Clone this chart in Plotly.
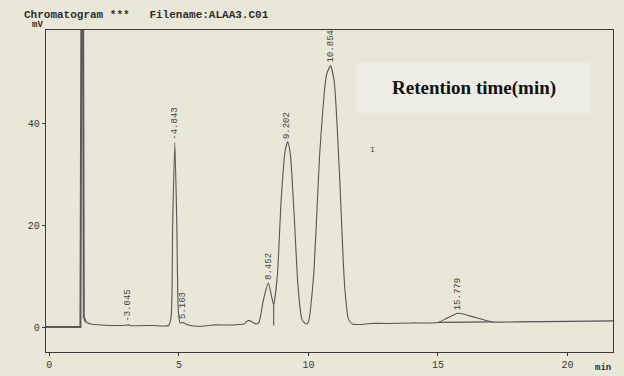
import plotly.graph_objects as go

# ---- data ----
# solvent front (off-scale spike)
solvent_t = [-0.13, 1.20, 1.24, 1.30, 1.33, 1.40]
solvent_mv = [0.0, 0.0, 70.0, 70.0, 2.0, 1.0]

# chromatogram trace after solvent front (time in min, signal in mV)
trace_t = [1.40, 1.6, 2.0, 2.8, 3.0, 3.045, 3.1, 4.0, 4.6, 4.70, 4.76, 4.843, 4.92, 4.98,
           5.05, 5.163, 5.3, 5.6, 6.0, 6.3, 7.0, 7.5, 7.7, 7.9, 8.0, 8.1, 8.25, 8.452,
           8.6, 8.66, 8.8, 8.95, 9.1, 9.202, 9.3, 9.45, 9.6, 9.75, 9.9, 10.0, 10.2,
           10.45, 10.7, 10.854, 11.0, 11.2, 11.4, 11.55, 11.7, 12.0, 12.4, 13.0, 14.0,
           15.0, 15.3, 15.779, 16.5, 17.1, 18.0, 20.0, 21.76]
trace_mv = [1.0, 0.6, 0.4, 0.3, 0.4, 0.5, 0.3, 0.3, 0.3, 2.0, 20.0, 36.1, 20.0, 3.0,
            0.8, 0.9, 0.5, 0.2, 0.2, 0.4, 0.4, 0.6, 1.3, 0.8, 0.6, 1.0, 5.0, 8.6,
            5.5, 4.4, 10.0, 25.0, 34.5, 36.3, 34.0, 22.0, 8.0, 1.5, 0.6, 1.0, 10.0,
            35.0, 49.5, 51.2, 48.0, 30.0, 8.0, 1.5, 0.6, 0.5, 0.7, 0.7, 0.8,
            0.9, 1.6, 2.7, 1.8, 1.0, 1.0, 1.1, 1.2]

# integration drop line / baselines
drop_t = [8.66, 8.66]
drop_mv = [4.4, 0.3]
base15_t = [15.0, 17.1]
base15_mv = [0.9, 1.0]

# peak labels
peak_rt = [3.045, 4.843, 5.163, 8.452, 9.202, 10.854, 15.779]
peak_mv = [0.5, 36.1, 0.9, 8.6, 36.3, 51.2, 2.7]
peak_txt = ["-3.045", "-4.843", "5.163", "8.452", "9.202", "10.854", "15.779"]

x_ticks = [0, 5, 10, 15, 20]
y_ticks = [0, 20, 40]

ink = "#3a3a3a"
bg = "#e9e7d8"
mono = "Liberation Mono, Courier New, monospace"

fig = go.Figure()
fig.add_trace(go.Scatter(x=solvent_t, y=solvent_mv, mode="lines",
                         line=dict(color="#5a5a5a", width=2.0), hoverinfo="skip"))
fig.add_trace(go.Scatter(x=trace_t, y=trace_mv, mode="lines",
                         line=dict(color="#555555", width=1.1, shape="spline", smoothing=0.6),
                         hoverinfo="skip"))
fig.add_trace(go.Scatter(x=drop_t, y=drop_mv, mode="lines",
                         line=dict(color="#555555", width=1.1), hoverinfo="skip"))
fig.add_trace(go.Scatter(x=base15_t, y=base15_mv, mode="lines",
                         line=dict(color="#555555", width=1.1), hoverinfo="skip"))

for rt, h, t in zip(peak_rt, peak_mv, peak_txt):
    fig.add_annotation(x=rt, y=h, text=t, textangle=-90, showarrow=False,
                       xanchor="center", yanchor="bottom", yshift=1,
                       font=dict(family=mono, size=9, color="#444444"))

fig.update_layout(
    width=624, height=376,
    margin=dict(l=46, r=11, t=30, b=24, autoexpand=False),
    paper_bgcolor=bg, plot_bgcolor=bg,
    showlegend=False,
    font=dict(family=mono, color=ink, size=10),
)
fig.update_xaxes(range=[-0.13, 21.76], tickvals=x_ticks, ticks="outside", ticklen=3,
                 tickcolor=ink, showline=True, mirror=True, linecolor=ink, linewidth=1.3,
                 showgrid=False, zeroline=False, automargin=False,
                 tickfont=dict(family=mono, size=10, color=ink))
fig.update_yaxes(range=[-4.9, 58.24], tickvals=y_ticks, ticks="outside", ticklen=3,
                 tickcolor=ink, showline=True, mirror=True, linecolor=ink, linewidth=1.3,
                 showgrid=False, zeroline=False, automargin=False,
                 tickfont=dict(family=mono, size=10, color=ink))

# header texts
fig.add_annotation(xref="paper", yref="paper", x=-0.042, y=1.0, yshift=15, xanchor="left",
                   yanchor="middle", showarrow=False,
                   text="<b>Chromatogram ***   Filename:ALAA3.C01</b>",
                   font=dict(family=mono, size=11, color="#2e2e2e"))
fig.add_annotation(xref="paper", yref="paper", x=-0.028, y=1.0, yshift=5, xanchor="left",
                   yanchor="middle", showarrow=False, text="<b>mV</b>",
                   font=dict(family=mono, size=9, color="#2e2e2e"))
fig.add_annotation(xref="paper", yref="paper", x=1.0, y=0, yshift=-16, xanchor="right",
                   yanchor="middle", showarrow=False, text="<b>min</b>",
                   font=dict(family=mono, size=9, color="#2e2e2e"))

# overlaid caption box
fig.add_shape(type="rect", xref="paper", yref="paper", x0=0.547, x1=0.961, y0=0.742, y1=0.898,
              fillcolor="#eeede5", line=dict(width=0), layer="above")
fig.add_annotation(xref="paper", yref="paper", x=0.754, y=0.82, xanchor="center",
                   yanchor="middle", showarrow=False,
                   text="<b>Retention time(min)</b>",
                   font=dict(family="Liberation Serif, Times New Roman, serif", size=19,
                             color="#111111"))
fig.add_annotation(xref="paper", yref="paper", x=0.576, y=0.63, xanchor="center",
                   yanchor="middle", showarrow=False,
                   text="I", font=dict(family=mono, size=8, color="#444444"))

fig.write_html("out.html",
               config={"displayModeBar": False},
               post_script="document.body.style.margin='0';"
                           "document.body.style.background='#e9e7d8';"
                           "document.body.style.overflow='hidden';")
